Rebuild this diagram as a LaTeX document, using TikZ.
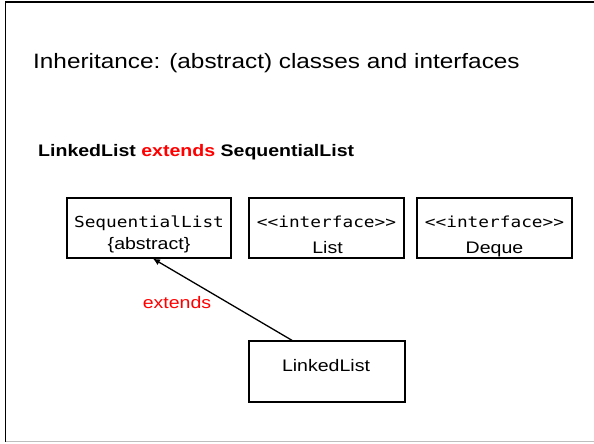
\documentclass[tikz,border=0pt]{standalone}
\usepackage{fontspec}
\setmainfont{Liberation Sans}[FakeStretch=1.17]
\newfontfamily\monofont{DejaVu Sans Mono}[FakeStretch=1.17]
\usetikzlibrary{arrows.meta}
\definecolor{kred}{RGB}{255,0,0}
\definecolor{kgray}{RGB}{190,190,190}
\tikzset{
  classbox/.style={draw=black, line width=1.3pt, inner sep=0pt},
  boxtext/.style={inner sep=0pt, anchor=base, font=\fontsize{16.7}{19}\selectfont},
  monotext/.style={inner sep=0pt, anchor=base, font=\monofont\fontsize{15.2}{18}\selectfont},
  inherit/.style={line width=1.3pt, -{Latex[length=7pt,width=6.5pt]}},
}
\begin{document}
\begin{tikzpicture}[x=1pt,y=1pt]
\useasboundingbox (0,0) rectangle (594,444);
% frame
\draw[line width=1.6pt] (5.5,2) -- (5.5,442) -- (594,442);
\draw[kgray, line width=1pt] (5.5,2) -- (594,2);
% title
\node[inner sep=0pt, anchor=base west, font=\fontsize{20.8}{25}\selectfont] (title) at (33,375)
  {Inheritance: (abstract) classes and interfaces};
\node[inner sep=0pt, anchor=base west, font=\bfseries\fontsize{16.7}{19}\selectfont] (sub) at (38,287)
  {LinkedList \textcolor{kred}{extends} SequentialList};
% boxes
\node[classbox, minimum width=164pt, minimum height=60pt] (sl) at (149,216) {};
\node[classbox, minimum width=155pt, minimum height=60pt] (li) at (326.5,216) {};
\node[classbox, minimum width=155pt, minimum height=60pt] (dq) at (494.5,216) {};
\node[classbox, minimum width=156pt, minimum height=61pt] (ll) at (327,72.5) {};
% box texts
\node[monotext] (slname) at (149,216.5) {SequentialList};
\node[boxtext] (slabs) at (149,194) {\{abstract\}};
\node[monotext] (liint) at (326.5,216.5) {<{}<interface>{}>};
\node[boxtext] (liname) at (327.5,190) {List};
\node[monotext] (dqint) at (494.5,216.5) {<{}<interface>{}>};
\node[boxtext] (dqname) at (494.5,190) {Deque};
\node[boxtext] (llname) at (326,72) {LinkedList};
% inheritance arrow
\draw[inherit] ([xshift=-35pt]ll.north) -- ([xshift=4pt]sl.south);
\node[boxtext, text=kred] (ext) at (177,135) {extends};
\end{tikzpicture}
\end{document}
